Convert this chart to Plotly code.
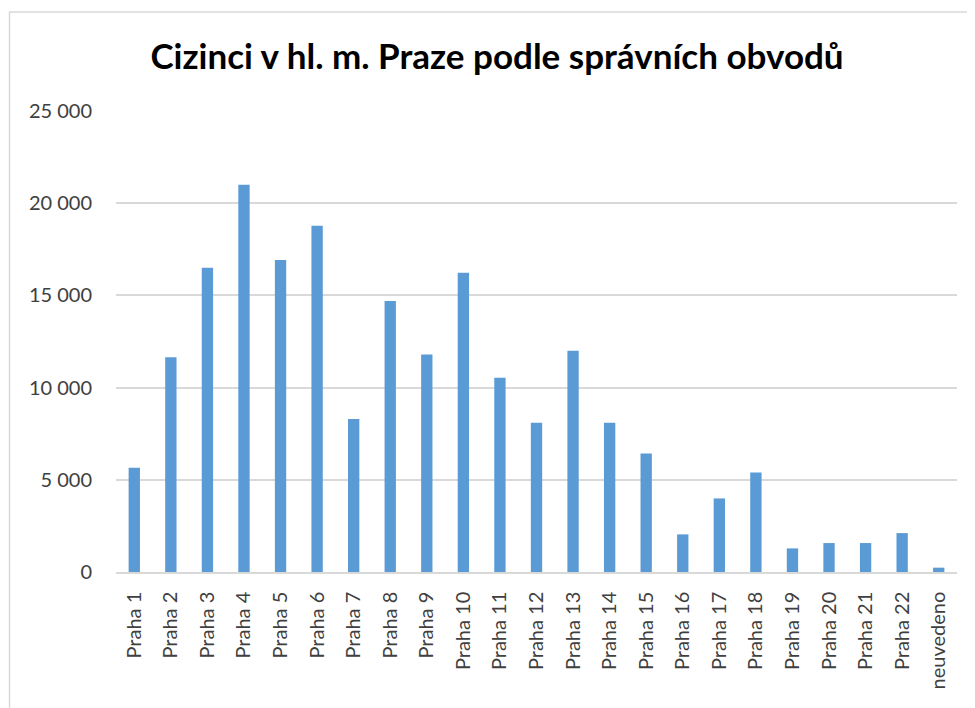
import plotly.graph_objects as go

categories = ["Praha 1", "Praha 2", "Praha 3", "Praha 4", "Praha 5", "Praha 6",
              "Praha 7", "Praha 8", "Praha 9", "Praha 10", "Praha 11", "Praha 12",
              "Praha 13", "Praha 14", "Praha 15", "Praha 16", "Praha 17", "Praha 18",
              "Praha 19", "Praha 20", "Praha 21", "Praha 22", "neuvedeno"]
values = [5660, 11640, 16500, 21000, 16920, 18780,
          8300, 14700, 11790, 16230, 10540, 8100,
          12000, 8100, 6420, 2040, 3990, 5390,
          1280, 1570, 1570, 2110, 235]
y_ticks = [0, 5000, 10000, 15000, 20000, 25000]

title_text = "Cizinci v hl. m. Praze podle správních obvodů"

fig = go.Figure()
fig.add_trace(go.Bar(
    x=categories, y=values,
    marker=dict(color="#5B9BD5", line=dict(width=0)),
    hoverinfo="x+y",
))

# page body has an 8px margin, so the figure is offset by 8px
OFF = 8
W, H = 975 - OFF, 708 - OFF
ml, mr, mt, mb = 116 - OFF, 18, 111 - OFF, 136
pw, ph = W - ml - mr, H - mt - mb

def px2paper_x(px):
    return (px - OFF - ml) / pw

def px2paper_y(py):
    return (H - mb - (py - OFF)) / ph

fig.update_layout(
    width=W, height=H,
    margin=dict(l=ml, r=mr, t=mt, b=mb, pad=0),
    paper_bgcolor="white", plot_bgcolor="white",
    separators=", ",
    bargap=0.69,
    showlegend=False,
    font=dict(family="Lato, 'Open Sans', sans-serif", color="#595959"),
    title=dict(
        text=title_text,
        x=(497 - OFF) / W, xanchor="center",
        y=1 - (57 - OFF) / H, yanchor="middle",
        font=dict(family="Lato, 'Open Sans', sans-serif", size=35, color="#000000", weight="bold"),
    ),
    xaxis=dict(
        type="category",
        tickangle=-90,
        tickfont=dict(size=20, color="#404040"),
        showgrid=False,
        showline=True, linecolor="#d9d9d9", linewidth=1.5,
        ticks="", ticklen=0,
        automargin=False,
        ticklabelstandoff=10,
    ),
    yaxis=dict(
        range=[0, 25000],
        tickvals=y_ticks,
        tickformat=",d",
        tickfont=dict(size=20, color="#404040"),
        showgrid=True, gridcolor="#d9d9d9", gridwidth=1.5,
        zeroline=False,
        showline=False,
        ticks="",
        automargin=False,
        ticklabelstandoff=23,
    ),
    shapes=[
        dict(type="rect", xref="paper", yref="paper",
             x0=px2paper_x(9.5), x1=px2paper_x(990),
             y0=px2paper_y(730), y1=px2paper_y(12),
             line=dict(color="#d9d9d9", width=1.5), fillcolor="rgba(0,0,0,0)",
             layer="below"),
    ],
)

fig.write_html("out.html")
